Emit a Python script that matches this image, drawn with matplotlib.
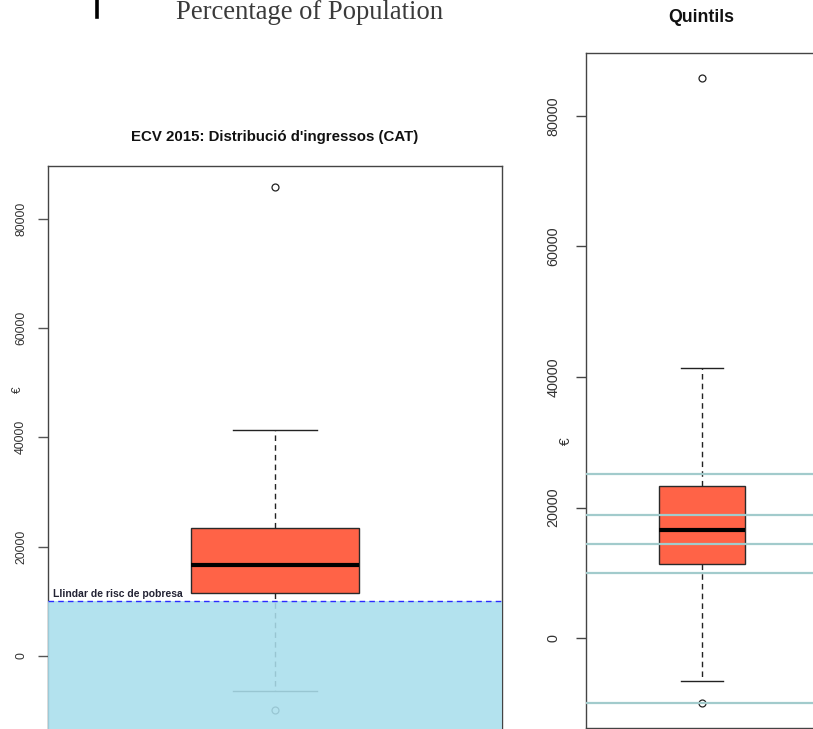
import matplotlib
matplotlib.use("Agg")
import matplotlib.pyplot as plt
from matplotlib.patches import Rectangle

plt.rcParams['font.family'] = ['Liberation Sans', 'DejaVu Sans']

# ---- data ----
box_whislo = -6500
box_q1 = 11450
box_med = 16650
box_q3 = 23400
box_whishi = 41400
box_fliers = [-9900, 85800]
poverty_threshold = 10060
quintile_values = [-9900, 10060, 14460, 18910, 25200]
yticks = [0, 20000, 40000, 60000, 80000]
left_title = "ECV 2015: Distribució d'ingressos (CAT)"
right_title = "Quintils"
poverty_label = "Llindar de risc de pobresa"
header_text = "Percentage of Population"
ylabel = "€"

W, H = 813, 729
fig = plt.figure(figsize=(W / 100, H / 100), dpi=100)

def frac_axes(left, top, right, bottom):
    return fig.add_axes([left / W, 1 - bottom / H, (right - left) / W, (bottom - top) / H])

stats = [dict(whislo=box_whislo, q1=box_q1, med=box_med, q3=box_q3,
              whishi=box_whishi, fliers=box_fliers)]

lo = min(box_fliers + [box_whislo])
hi = max(box_fliers + [box_whishi])
pad = 0.04 * (hi - lo)
ylim = (lo - pad, hi + pad)

def draw_box(ax, whisker_color='#222222'):
    ax.bxp(stats, positions=[1], widths=0.37, capwidths=0.185, patch_artist=True,
           showfliers=True,
           boxprops=dict(facecolor='#FF6347', edgecolor='#2a2a2a', linewidth=1.0),
           medianprops=dict(color='black', linewidth=3),
           whiskerprops=dict(color=whisker_color, linewidth=1.0, linestyle=(0, (4, 3))),
           capprops=dict(color=whisker_color, linewidth=1.0),
           flierprops=dict(marker='o', markersize=5, markerfacecolor='none',
                           markeredgecolor='#222222', markeredgewidth=0.9))
    ax.set_xlim(0.5, 1.5)
    ax.set_ylim(*ylim)
    ax.set_xticks([])
    ax.set_yticks(yticks)
    ax.set_yticklabels([str(v) for v in yticks])
    for s in ax.spines.values():
        s.set_color('#444444')
        s.set_linewidth(1.0)

# ---- left chart ----
axL = frac_axes(48, 166, 502, 731)
draw_box(axL)
axL.tick_params(axis='y', length=7, width=1, color='#555555', pad=8,
                labelsize=8.8, labelcolor='#333333')
plt.setp(axL.get_yticklabels(), rotation=90, va='center')
axL.add_patch(Rectangle((0.5, ylim[0]), 1.0, poverty_threshold - ylim[0],
                        facecolor='#A9DEEC', edgecolor='none', alpha=0.88, zorder=5))
axL.axhline(poverty_threshold, color='#2b2bff', linewidth=1.0,
            linestyle=(0, (4, 3)), zorder=6)
axL.text(0.51, poverty_threshold + 300, poverty_label, fontsize=7.5,
         fontweight='bold', color='#222233', ha='left', va='bottom', zorder=7)
fig.text(18 / W, 1 - 390 / H, ylabel, rotation=90, fontsize=8.5,
         ha='center', va='center', color='#333333')
fig.text(275 / W, 1 - 137 / H, left_title, fontsize=10.8, fontweight='bold',
         ha='center', va='center', color='#111111')

# ---- right chart ----
axR = frac_axes(586, 53, 818, 728)
draw_box(axR)
for q in quintile_values:
    axR.axhline(q, color='#A2CBCC', linewidth=1.6, zorder=5)
axR.tick_params(axis='y', length=7.5, width=1, color='#444444', pad=11,
                labelsize=10.4, labelcolor='#333333')
plt.setp(axR.get_yticklabels(), rotation=90, va='center')
fig.text(566 / W, 1 - 441 / H, ylabel, rotation=90, fontsize=10,
         ha='center', va='center', color='#333333')
fig.text(701 / W, 1 - 18 / H, right_title, fontsize=12.8, fontweight='bold',
         ha='center', va='center', color='#111111')

# ---- cropped header at top ----
fig.add_artist(plt.Line2D([97 / W, 97 / W], [1.0, 1 - 17 / H], color='black',
                          linewidth=2.6, transform=fig.transFigure))
fig.text(310 / W, 1 - 19 / H, header_text, family=['Liberation Serif', 'DejaVu Serif'],
         fontsize=19.2, ha='center', va='baseline', color='#3a3a3a')

fig.savefig('out.png', dpi=100)
